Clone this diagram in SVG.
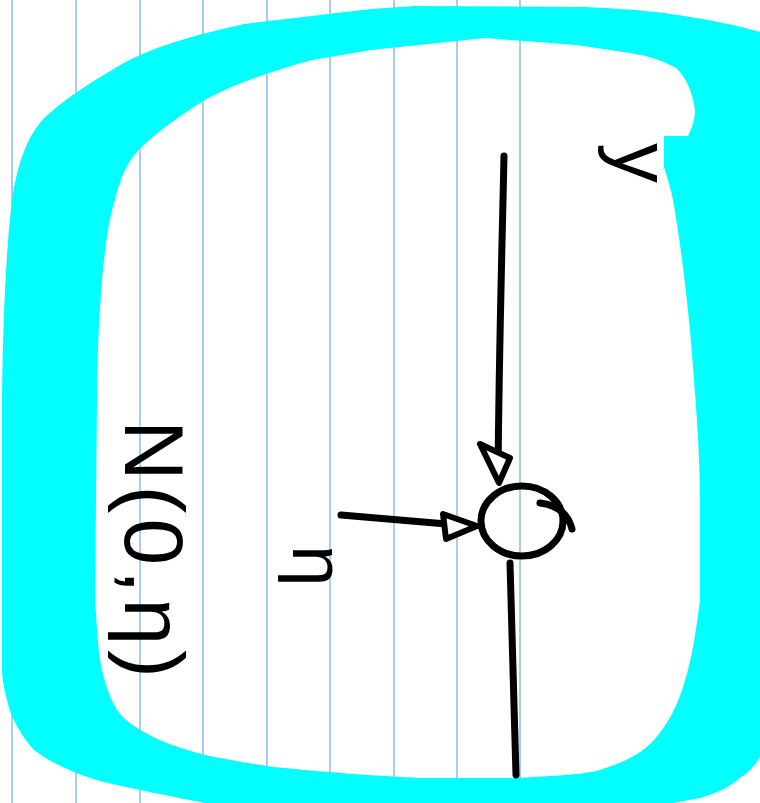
<svg xmlns="http://www.w3.org/2000/svg" width="760" height="803" viewBox="0 0 760 803">
<style>
.rule{stroke:#a8cdf5;stroke-width:2;fill:none}
.ink{stroke:#000;stroke-width:7;fill:none;stroke-linecap:round;stroke-linejoin:round}
.head{stroke:#000;stroke-width:6;fill:#fff;stroke-linejoin:round}
.lbl{font-family:"Liberation Sans",Arial,sans-serif;fill:#000}
</style>
<rect x="0" y="0" width="760" height="803" fill="#fff"/>
<g id="paper">
<line class="rule" x1="12" y1="0" x2="12" y2="803"/>
<line class="rule" x1="76" y1="0" x2="76" y2="803"/>
<line class="rule" x1="140" y1="0" x2="140" y2="803"/>
<line class="rule" x1="203" y1="0" x2="203" y2="803"/>
<line class="rule" x1="267" y1="0" x2="267" y2="803"/>
<line class="rule" x1="330" y1="0" x2="330" y2="803"/>
<line class="rule" x1="394" y1="0" x2="394" y2="803"/>
<line class="rule" x1="457" y1="0" x2="457" y2="803"/>
<line class="rule" x1="520" y1="0" x2="520" y2="803"/>
</g>
<g id="frame">
<path fill="#00ffff" fill-rule="evenodd" d="M 2,667 L 2,400 C 3,320 6,250 12,200 C 18,160 30,128 51,112 C 70,95 95,80 112,70 C 140,52 180,38 244,24 L 371,9 L 415,6 L 585,7 C 630,9 660,12 678,15 C 710,20 735,25 760,32 L 760,757 C 752,770 745,775 741,777 C 730,787 717,793 700,798 L 673,803 L 205,803 C 170,796 137,790 100,781 C 70,772 50,762 34,750 C 20,735 10,715 7,700 C 3,685 2,675 2,667 Z M 95,600 L 97,400 C 98,300 105,230 115,200 C 122,170 132,155 146,143 C 160,130 185,112 205,100 C 230,86 268,72 312,60 L 371,50 L 485,38 L 576,45 C 610,50 635,53 649,57 C 665,62 675,66 680,72 C 688,82 693,95 695,110 C 695,120 692,128 688,136 L 664,136 L 664,167 C 668,180 671,190 673,200 C 680,240 685,280 690,330 C 695,390 700,450 700,500 L 700,600 C 695,640 690,665 685,680 C 680,700 670,722 654,740 C 640,755 624,762 600,770 C 580,775 566,775 517,778 L 420,778 C 380,776 332,773 273,767 C 240,762 220,758 205,755 C 180,748 160,742 146,733 C 130,725 122,717 117,710 C 105,690 100,665 98,643 Z"/>
</g>
<g id="connectors">
<path class="ink" d="M 504,156 C 502,250 499,350 498,478"/>
<path class="head" d="M 480,444 L 510,458 L 499,483 Z"/>
<path class="ink" d="M 341,515 C 380,518 420,522 470,526"/>
<path class="head" d="M 443,514 L 446,539 L 477,526 Z"/>
<path class="ink" d="M 510,563 C 512,640 514,700 516,775"/>
</g>
<g id="node">
<ellipse class="ink" cx="522" cy="521" rx="41" ry="35"/>
<path class="ink" d="M 540,503 Q 566,506 572,529"/>
</g>
<g id="label-y">
<text class="lbl" x="615" y="143" font-size="80" transform="rotate(90 615 143)">y</text>
</g>
<g id="label-eta">
<text class="lbl" x="293" y="545" font-size="75" transform="rotate(90 293 545)">η</text>
</g>
<g id="label-dist">
<text class="lbl" x="125" y="420" font-size="84" textLength="258" lengthAdjust="spacing" transform="rotate(90 125 420)">N(0,η)</text>
</g>
</svg>
